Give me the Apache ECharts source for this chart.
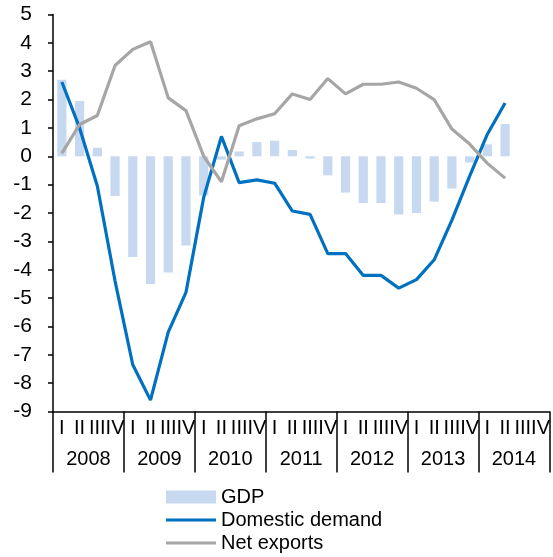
<!DOCTYPE html>
<html>
<head>
<meta charset="utf-8">
<script src="https://cdn.jsdelivr.net/npm/echarts@6/dist/echarts.min.js"></script>
<style>
html,body{margin:0;padding:0;background:#fff;}
#chart{width:553px;height:557px;}
</style>
</head>
<body>
<div id="chart"></div>
<script>
var years = ['2008','2009','2010','2011','2012','2013','2014'];
var quarterNames = ['I','II','III','IV'];
var gdp = [2.7, 1.95, 0.3, -1.4, -3.55, -4.5, -4.1, -3.15, -1.38, -0.12, 0.17, 0.5, 0.55, 0.22, -0.08, -0.67, -1.28, -1.65, -1.65, -2.05, -2.0, -1.6, -1.14, -0.22, 0.42, 1.14, null, null];
var domesticDemand = [2.62, 1.0, -1.05, -4.4, -7.35, -8.6, -6.2, -4.8, -1.45, 0.7, -0.93, -0.83, -0.95, -1.93, -2.05, -3.43, -3.43, -4.2, -4.2, -4.65, -4.35, -3.65, -2.25, -0.7, 0.78, 1.88, null, null];
var netExports = [0.1, 1.12, 1.44, 3.2, 3.77, 4.04, 2.06, 1.61, 0.0, -0.9, 1.08, 1.32, 1.5, 2.2, 2.0, 2.74, 2.2, 2.54, 2.54, 2.62, 2.4, 2.0, 0.96, 0.43, -0.25, -0.77, null, null];
var yTicks = {min: -9, max: 5, interval: 1};

var quarters = [];
years.forEach(function (y) { quarterNames.forEach(function (q) { quarters.push(q); }); });

var FONT = 'Liberation Sans, Arial, sans-serif';
var LINE_ICON = 'path://M0,0 L50,0 L50,3 L0,3 Z';
var chart = echarts.init(document.getElementById('chart'));
chart.setOption({
  animation: false,
  grid: {left: 53, right: 3, top: 14.5, bottom: 145.5, containLabel: false},
  legend: {
    orient: 'vertical',
    left: 166,
    top: 487,
    padding: 0,
    itemWidth: 50,
    itemHeight: 13,
    itemGap: 3,
    itemTextGap: 4,
    symbolKeepAspect: true,
    textStyle: {fontFamily: FONT, fontSize: 20, color: '#000', lineHeight: 20},
    data: [
      {name: 'GDP', icon: 'rect'},
      {name: 'Domestic demand', icon: LINE_ICON},
      {name: 'Net exports', icon: LINE_ICON}
    ]
  },
  xAxis: [
    {
      type: 'category',
      data: quarters,
      position: 'bottom',
      axisLine: {show: true, onZero: false, lineStyle: {color: '#000', width: 1.5}},
      axisTick: {show: false},
      axisLabel: {interval: 0, margin: 7, fontFamily: FONT, fontSize: 20, color: '#000'},
      splitLine: {show: false}
    },
    {
      type: 'category',
      data: years,
      position: 'bottom',
      axisLine: {show: false, onZero: false},
      axisTick: {show: true, length: 61, lineStyle: {color: '#000', width: 1.5}},
      axisLabel: {interval: 0, margin: 38, fontFamily: FONT, fontSize: 20, color: '#000'},
      splitLine: {show: false}
    }
  ],
  yAxis: {
    type: 'value',
    min: yTicks.min,
    max: yTicks.max,
    interval: yTicks.interval,
    axisLine: {show: true, lineStyle: {color: '#000', width: 1.5}},
    axisTick: {show: true, length: 5, lineStyle: {color: '#000', width: 1.5}},
    axisLabel: {margin: 21, fontFamily: FONT, fontSize: 21, color: '#000'},
    splitLine: {show: false}
  },
  series: [
    {
      name: 'GDP',
      type: 'bar',
      data: gdp,
      barWidth: '52%',
      itemStyle: {color: '#C6D9F1'}
    },
    {
      name: 'Domestic demand',
      type: 'line',
      data: domesticDemand,
      symbol: 'none',
      lineStyle: {color: '#0070C0', width: 3.2},
      itemStyle: {color: '#0070C0'},
      z: 3
    },
    {
      name: 'Net exports',
      type: 'line',
      data: netExports,
      symbol: 'none',
      lineStyle: {color: '#A6A6A6', width: 3.2},
      itemStyle: {color: '#A6A6A6'},
      z: 3
    }
  ]
});
</script>
</body>
</html>
